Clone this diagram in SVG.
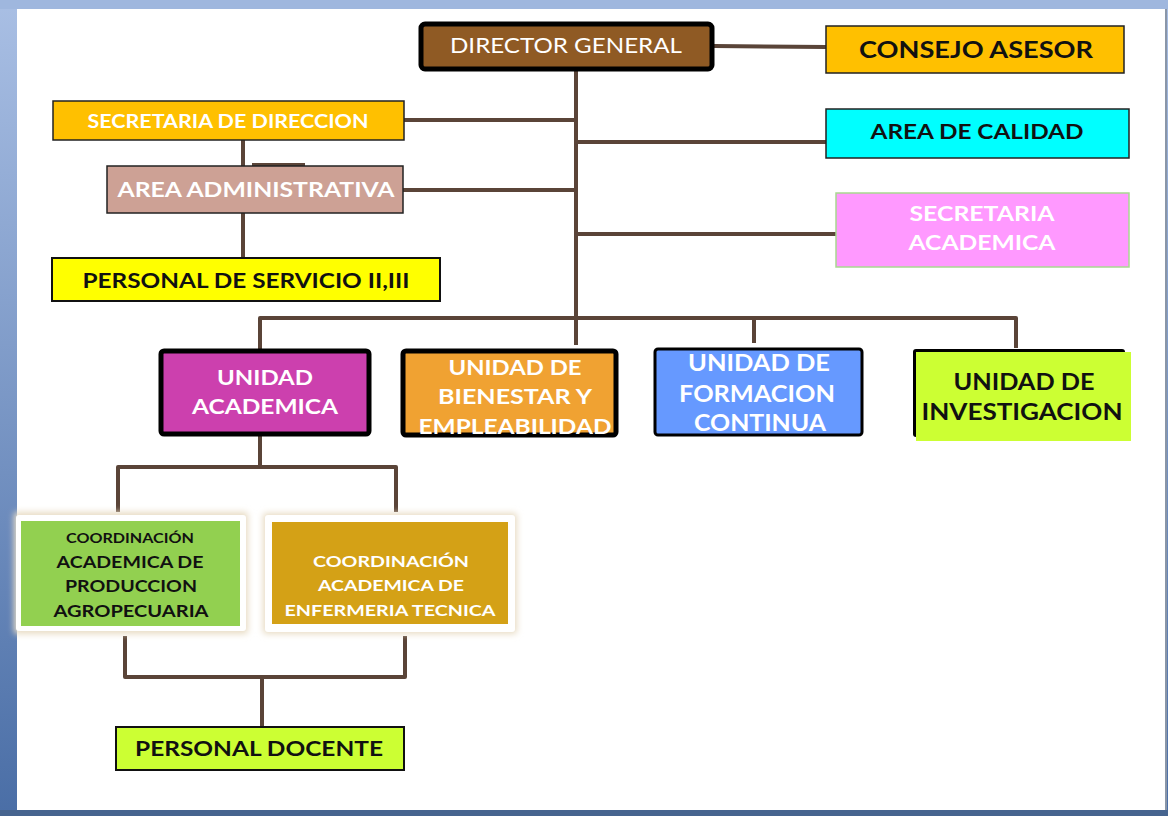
<svg xmlns="http://www.w3.org/2000/svg" width="1168" height="816" viewBox="0 0 1168 816">
  <defs>
    <linearGradient id="frameL" x1="0" y1="0" x2="0" y2="1">
      <stop offset="0" stop-color="#a9bfe4"/>
      <stop offset="1" stop-color="#4a6ea6"/>
    </linearGradient>
    <filter id="glow" x="-10%" y="-10%" width="120%" height="120%">
      <feGaussianBlur stdDeviation="3"/>
    </filter>
    <clipPath id="clipBien">
      <rect x="403" y="351" width="213" height="85"/>
    </clipPath>
  </defs>
  <style>
    .conn { fill: none; stroke: #5a4438; stroke-width: 4; stroke-linejoin: round; }
    .t { font-family: Lato, "Liberation Sans", sans-serif; font-weight: bold; text-anchor: middle; }
    .w { fill: #ffffff; }
    .b { fill: #111111; }
    .thin { stroke: #222222; stroke-width: 1.5; }
    .thick { stroke: #000000; stroke-width: 5; }
  </style>

  <!-- frame -->
  <rect x="0" y="0" width="1168" height="816" fill="url(#frameL)"/>
  <rect x="0" y="0" width="1168" height="9" fill="#9fb7de"/>
  <rect x="0" y="810" width="1168" height="6" fill="#46648f"/>
  <rect x="17" y="9" width="1150" height="801" fill="#ffffff"/>
  <rect x="1165" y="9" width="2" height="801" fill="#8a96a8"/>

  <!-- connectors -->
  <g id="connectors">
    <path class="conn" d="M714 46 L826 47"/>
    <path class="conn" d="M576 70 L576 345"/>
    <path class="conn" d="M404 120 L576 120"/>
    <path class="conn" d="M576 142 L826 142"/>
    <path class="conn" d="M403 190 L576 190"/>
    <path class="conn" d="M576 234 L836 234"/>
    <path class="conn" d="M243 140 L243 166"/>
    <path class="conn" d="M252 165 L305 165"/>
    <path class="conn" d="M243 213 L243 258"/>
    <path class="conn" d="M260 350 L260 318 L1016 318 L1016 348"/>
    <path class="conn" d="M754 318 L754 343"/>
    <path class="conn" d="M260 435 L260 467"/>
    <path class="conn" d="M118 512 L118 467 L396 467 L396 512"/>
    <path class="conn" d="M125 636 L125 677 L405 677 L405 636"/>
    <path class="conn" d="M262 677 L262 727"/>
  </g>

  <g id="director-general">
    <rect x="421" y="24" width="291" height="45" rx="4" fill="#8f5a24" class="thick"/>
    <text x="566" y="53" class="t w" style="font-weight:normal" font-size="21" textLength="232" lengthAdjust="spacingAndGlyphs">DIRECTOR GENERAL</text>
  </g>

  <g id="consejo-asesor">
    <rect x="826" y="26" width="298" height="47" fill="#ffc000" class="thin"/>
    <text x="976" y="58" class="t b" font-size="23" textLength="234" lengthAdjust="spacingAndGlyphs">CONSEJO ASESOR</text>
  </g>

  <g id="secretaria-direccion">
    <rect x="53" y="101" width="351" height="39" fill="#ffc000" class="thin"/>
    <text x="228" y="128" class="t w" font-size="18" textLength="281" lengthAdjust="spacingAndGlyphs">SECRETARIA DE DIRECCION</text>
  </g>

  <g id="area-calidad">
    <rect x="826" y="109" width="303" height="49" fill="#00ffff" class="thin"/>
    <text x="977" y="139" class="t b" font-size="20" textLength="213" lengthAdjust="spacingAndGlyphs">AREA DE CALIDAD</text>
  </g>

  <g id="area-administrativa">
    <rect x="107" y="166" width="296" height="47" fill="#cda195" class="thin"/>
    <text x="256" y="197" class="t w" font-size="21" textLength="277" lengthAdjust="spacingAndGlyphs">AREA ADMINISTRATIVA</text>
  </g>

  <g id="secretaria-academica">
    <rect x="836" y="193" width="293" height="74" fill="#ff99ff" stroke="#a8d890" stroke-width="1.5"/>
    <text x="982" y="221" class="t w" font-size="20" textLength="145" lengthAdjust="spacingAndGlyphs">SECRETARIA</text>
    <text x="982" y="250" class="t w" font-size="20" textLength="147" lengthAdjust="spacingAndGlyphs">ACADEMICA</text>
  </g>

  <g id="personal-servicio">
    <rect x="52" y="258" width="388" height="43" fill="#ffff00" stroke="#111" stroke-width="2"/>
    <text x="246" y="288" class="t b" font-size="21" textLength="327" lengthAdjust="spacingAndGlyphs">PERSONAL DE SERVICIO II,III</text>
  </g>

  <g id="unidad-academica">
    <rect x="161" y="351" width="208" height="83" rx="3" fill="#cc40ae" class="thick"/>
    <text x="265" y="385" class="t w" font-size="21" textLength="96" lengthAdjust="spacingAndGlyphs">UNIDAD</text>
    <text x="265" y="414" class="t w" font-size="21" textLength="146" lengthAdjust="spacingAndGlyphs">ACADEMICA</text>
  </g>

  <g id="unidad-bienestar">
    <rect x="403" y="351" width="213" height="84" rx="3" fill="#f0a232" class="thick"/>
    <g clip-path="url(#clipBien)">
      <text x="515" y="375" class="t w" font-size="21" textLength="133" lengthAdjust="spacingAndGlyphs">UNIDAD DE</text>
      <text x="515" y="404" class="t w" font-size="21" textLength="154" lengthAdjust="spacingAndGlyphs">BIENESTAR Y</text>
      <text x="515" y="434" class="t w" font-size="21" textLength="193" lengthAdjust="spacingAndGlyphs">EMPLEABILIDAD</text>
    </g>
  </g>

  <g id="unidad-formacion">
    <rect x="655" y="349" width="207" height="86" rx="3" fill="#6699ff" stroke="#000" stroke-width="3"/>
    <text x="759" y="371" class="t w" font-size="22" textLength="142" lengthAdjust="spacingAndGlyphs">UNIDAD DE</text>
    <text x="757" y="402" class="t w" font-size="22" textLength="156" lengthAdjust="spacingAndGlyphs">FORMACION</text>
    <text x="760" y="431" class="t w" font-size="22" textLength="132" lengthAdjust="spacingAndGlyphs">CONTINUA</text>
  </g>

  <g id="unidad-investigacion">
    <rect x="913" y="349" width="212" height="88" rx="3" fill="#000000"/>
    <rect x="916" y="352" width="215" height="89" fill="#ccff33"/>
    <text x="1024" y="390" class="t b" font-size="22" textLength="141" lengthAdjust="spacingAndGlyphs">UNIDAD DE</text>
    <text x="1022" y="420" class="t b" font-size="22" textLength="201" lengthAdjust="spacingAndGlyphs">INVESTIGACION</text>
  </g>

  <g id="coord-produccion">
    <rect x="14" y="512" width="234" height="122" rx="3" fill="#e8dcc4" filter="url(#glow)"/>
    <rect x="16" y="515" width="230" height="116" rx="3" fill="#ffffff"/>
    <rect x="21" y="521" width="219" height="105" fill="#92d050"/>
    <text x="130" y="543" class="t b" font-size="13" textLength="128" lengthAdjust="spacingAndGlyphs">COORDINACIÓN</text>
    <text x="130" y="568" class="t b" font-size="17" textLength="147" lengthAdjust="spacingAndGlyphs">ACADEMICA DE</text>
    <text x="131" y="592" class="t b" font-size="17" textLength="132" lengthAdjust="spacingAndGlyphs">PRODUCCION</text>
    <text x="131" y="617" class="t b" font-size="17" textLength="155" lengthAdjust="spacingAndGlyphs">AGROPECUARIA</text>
  </g>

  <g id="coord-enfermeria">
    <rect x="263" y="513" width="254" height="121" rx="3" fill="#e8dcc4" filter="url(#glow)"/>
    <rect x="265" y="515" width="250" height="117" rx="3" fill="#ffffff"/>
    <rect x="272" y="522" width="236" height="102" fill="#d4a116"/>
    <text x="391" y="567" class="t w" font-size="16" textLength="156" lengthAdjust="spacingAndGlyphs">COORDINACIÓN</text>
    <text x="391" y="591" class="t w" font-size="16" textLength="146" lengthAdjust="spacingAndGlyphs">ACADEMICA DE</text>
    <text x="390" y="616" class="t w" font-size="16" textLength="211" lengthAdjust="spacingAndGlyphs">ENFERMERIA TECNICA</text>
  </g>

  <g id="personal-docente">
    <rect x="116" y="727" width="288" height="43" fill="#ccff33" stroke="#111" stroke-width="2"/>
    <text x="259" y="756" class="t b" font-size="20" textLength="248" lengthAdjust="spacingAndGlyphs">PERSONAL DOCENTE</text>
  </g>
</svg>
